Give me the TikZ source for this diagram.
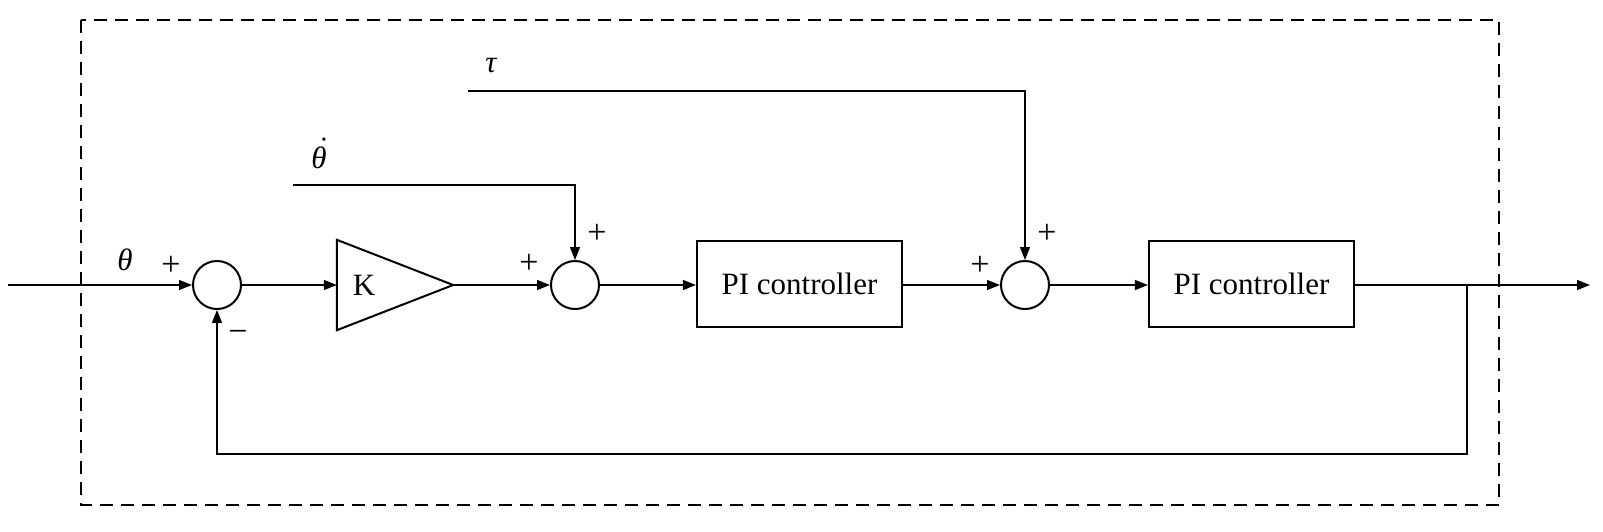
\documentclass[tikz,border=0pt]{standalone}
\usepackage{fontspec}
\setmainfont{Liberation Serif}
\usetikzlibrary{arrows.meta}
\begin{document}
\begin{tikzpicture}[x=1pt,y=-1pt,
  every node/.style={font=\fontsize{31}{36}\selectfont},
  sumnode/.style={circle,draw,line width=2pt,minimum size=48pt,inner sep=0pt},
  blocknode/.style={draw,line width=2.2pt,minimum width=205pt,minimum height=86pt,inner sep=0pt},
  conn/.style={line width=1.3pt},
  arr/.style={conn,-{Triangle[length=13pt,width=10pt]}},
  lbl/.style={inner sep=0pt},
  sym/.style={inner sep=0pt,font=\fontsize{34}{38}\selectfont},
  greek/.style={inner sep=0pt,font=\fontsize{31}{36}\selectfont\itshape}]
\useasboundingbox (0,0) rectangle (1603,531);
\draw[line width=2pt,dash pattern=on 13pt off 8pt] (81,20) rectangle (1499,505);
% nodes
\coordinate (in) at (8,285);
\node[sumnode] (s1) at (217,285) {};
\node[minimum width=116pt,minimum height=90pt,inner sep=0pt] (K) at (395,285) {};
\draw[line width=2pt,line join=miter] (K.north west) -- (K.east) -- (K.south west) -- cycle;
\node[lbl] (Klbl) at (364,285) {K};
\node[sumnode] (s2) at (575,285) {};
\node[blocknode] (pi1) at (799.5,284) {PI controller};
\node[sumnode] (s3) at (1025,285) {};
\node[blocknode] (pi2) at (1251.5,284) {PI controller};
\coordinate (out) at (1590,285);
\coordinate (br) at (1467,285);
\coordinate (fb) at (1467,454);
\coordinate (dth) at (293,185);
\coordinate (tau) at (468,91);
% connectors
\draw[arr] (in) -- (s1.west);
\draw[arr] (s1.east) -- (K.west);
\draw[arr] (K.east) -- (s2.west);
\draw[arr] (s2.east) -- (pi1.west |- s2.east);
\draw[arr] (pi1.east |- s3.west) -- (s3.west);
\draw[arr] (s3.east) -- (pi2.west |- s3.east);
\draw[arr] (pi2.east |- out) -- (out);
\draw[arr] (br) -- (fb) -| (s1.south);
\draw[arr] (dth) -| (s2.north);
\draw[arr] (tau) -| (s3.north);
% labels
\node[greek] (lth) at (125,260) {θ};
\node[sym] (p1) at (171,266) {+};
\node[sym] (m1) at (238,336) {−};
\node[greek,anchor=base] (ldth) at (319,168) {\ooalign{θ\cr\hidewidth\kern0.2em\raisebox{0.3em}{˙}\hidewidth\cr}};
\node[greek] (ltau) at (491,66) {τ};
\node[sym] (p2) at (529,264) {+};
\node[sym] (p3) at (597,234) {+};
\node[sym] (p4) at (980,266) {+};
\node[sym] (p5) at (1047,234) {+};
\end{tikzpicture}
\end{document}
